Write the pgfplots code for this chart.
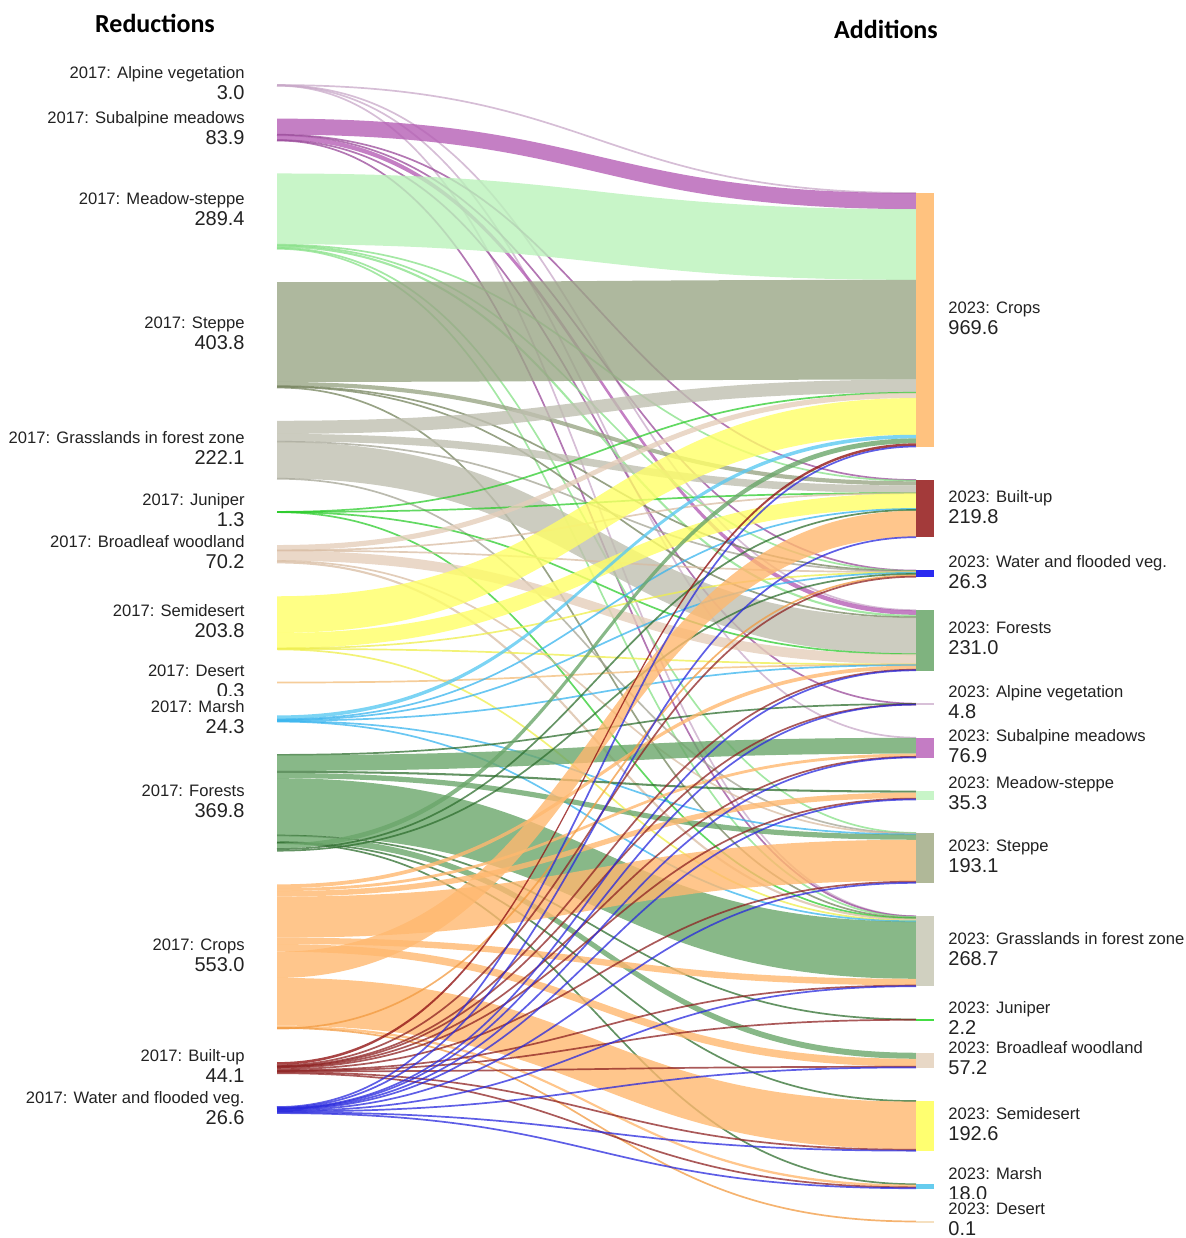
\documentclass[border=0pt]{standalone}
\usepackage{fontspec}
\setmainfont{Liberation Sans}
\newfontfamily\headfont{Carlito}
\usepackage{pgfplots}
\usepackage{pgfplotstable}
\pgfplotsset{compat=1.18}

% link colours, by source (2017)
\definecolor{L0}{HTML}{D3BAD3}
\definecolor{L1}{HTML}{B55FB5}
\definecolor{L2}{HTML}{BAF2BA}
\definecolor{L3}{HTML}{9AA686}
\definecolor{L4}{HTML}{BFBFB0}
\definecolor{L5}{HTML}{40D840}
\definecolor{L6}{HTML}{E5CEBA}
\definecolor{L7}{HTML}{FFFF67}
\definecolor{L8}{HTML}{F6CE93}
\definecolor{L9}{HTML}{5BC9F1}
\definecolor{L10}{HTML}{6AA66A}
\definecolor{L11}{HTML}{FFB86F}
\definecolor{L12}{HTML}{921515}
\definecolor{L13}{HTML}{1515EA}
% thin links
\definecolor{D0}{HTML}{C8A8C8}
\definecolor{D1}{HTML}{9A4A9A}
\definecolor{D2}{HTML}{86E086}
\definecolor{D3}{HTML}{76845E}
\definecolor{D4}{HTML}{A4A494}
\definecolor{D5}{HTML}{2ECC2E}
\definecolor{D6}{HTML}{D8BCA2}
\definecolor{D7}{HTML}{EEEE4A}
\definecolor{D8}{HTML}{F2BC78}
\definecolor{D9}{HTML}{38B4EE}
\definecolor{D10}{HTML}{2F6F2F}
\definecolor{D11}{HTML}{F29A40}
\definecolor{D12}{HTML}{8E2222}
\definecolor{D13}{HTML}{2828DD}
% node bars, by target (2023)
\definecolor{R0}{HTML}{FFC27F}
\definecolor{R1}{HTML}{A33A3A}
\definecolor{R2}{HTML}{2A2AF0}
\definecolor{R3}{HTML}{7FB37F}
\definecolor{R4}{HTML}{D8C0D8}
\definecolor{R5}{HTML}{C47CC4}
\definecolor{R6}{HTML}{C8F5C8}
\definecolor{R7}{HTML}{B0B898}
\definecolor{R8}{HTML}{D0D0C0}
\definecolor{R9}{HTML}{44DD44}
\definecolor{R10}{HTML}{E8D8C6}
\definecolor{R11}{HTML}{FFFF70}
\definecolor{R12}{HTML}{66CCEE}
\definecolor{R13}{HTML}{F5E0C0}
\definecolor{labtext}{HTML}{222222}

\newcommand\namefont{\fontsize{8.3pt}{10pt}\selectfont}
\newcommand\valfont{\fontsize{10pt}{12pt}\selectfont}
\tikzset{
  namelab/.style={font=\namefont, text=labtext, fill=white, inner xsep=0pt, inner ysep=2pt},
  vallab/.style={font=\valfont, text=labtext, inner sep=0pt}
}

% flows: src = 2017 class, tgt = 2023 class, val = area
% src: 0 Alpine 1 Subalpine 2 Meadow-steppe 3 Steppe 4 Grasslands 5 Juniper 6 Broadleaf
%      7 Semidesert 8 Desert 9 Marsh 10 Forests 11 Crops 12 Built-up 13 Water
% tgt: 0 Crops 1 Built-up 2 Water 3 Forests 4 Alpine 5 Subalpine 6 Meadow-steppe 7 Steppe
%      8 Grasslands 9 Juniper 10 Broadleaf 11 Semidesert 12 Marsh 13 Desert
\pgfplotstableread{
src tgt val
0 0 0.5
0 3 0.8
0 5 1.1
0 8 0.6
1 0 61
1 1 1
1 2 2
1 3 17.4
1 4 1.5
1 8 1
2 0 270
2 1 4.4
2 2 1
2 3 8
2 7 2
2 8 4
3 0 380.8
3 1 16
3 2 1
3 3 3
3 8 3
4 0 50
4 1 29
4 2 2
4 3 139.1
4 7 2
5 0 0.4
5 1 0.3
5 3 0.3
5 8 0.3
6 0 20
6 1 1
6 2 1
6 3 38
6 7 2.2
6 8 8
7 0 140
7 1 58
7 2 1.8
7 3 2
7 8 2
8 3 0.3
9 0 14
9 1 2.3
9 2 2
9 3 3
9 7 1
9 8 2
10 4 1.7
10 5 60.3
10 6 7.8
10 7 20
10 8 218.4
10 9 1.2
10 10 23
10 11 3.7
10 12 2.5
10 0 18.9
10 1 5.8
10 2 6.5
11 3 14.5
11 5 11
11 6 21
11 7 156.9
11 8 24.4
11 10 29.2
11 1 100
11 11 181.9
11 12 9
11 13 0.1
11 2 5
12 0 10
12 2 4
12 3 2.6
12 4 1
12 5 2.5
12 6 4
12 7 6
12 8 3
12 9 1.0
12 10 2.5
12 11 4
12 12 3.5
13 0 4
13 1 2
13 3 2
13 4 0.6
13 5 2
13 6 2.5
13 7 3
13 8 2
13 10 2.5
13 11 3
13 12 3
}\links

\begin{document}
\begin{tikzpicture}
% 1 axis unit = 1 px of the reference; sc = px per unit of area
\def\sc{0.262}\def\gap{32.85}
\def\xl{277}\def\xr{916}\def\xm{596.5}
\gdef\nodestuff{}
\gdef\linkpaths{}
% left column (2017)
\xdef\acc{85}
\foreach \val/\nm [count=\k from 0] in {3.0/Alpine vegetation, 83.9/Subalpine meadows,
    289.4/Meadow-steppe, 403.8/Steppe, 222.1/Grasslands in forest zone, 1.3/Juniper,
    70.2/Broadleaf woodland, 203.8/Semidesert, 0.3/Desert, 24.3/Marsh, 369.8/Forests,
    553.0/Crops, 44.1/Built-up, 26.6/Water and flooded veg.}{%
  \pgfmathsetmacro\cy{\acc+0.5*\val*\sc}%
  \pgfmathsetmacro\yn{\cy-6.5}\pgfmathsetmacro\yv{\cy+14.5}%
  \expandafter\xdef\csname ltop\k\endcsname{\acc}%
  \expandafter\xdef\csname loff\k\endcsname{0}%
  \xdef\nodestuff{\expandafter\unexpanded\expandafter{\nodestuff}%
    \noexpand\node[namelab,anchor=base east] at (axis cs:245,\yn) {2017: \nm};%
    \noexpand\node[vallab,anchor=base east] at (axis cs:245,\yv) {\val};}%
  \pgfmathparse{\acc+\val*\sc+\gap}\xdef\acc{\pgfmathresult}%
}
% right column (2023)
\xdef\acc{193}
\foreach \val/\nm [count=\k from 0] in {969.6/Crops, 219.8/Built-up,
    26.3/Water and flooded veg., 231.0/Forests, 4.8/Alpine vegetation,
    76.9/Subalpine meadows, 35.3/Meadow-steppe, 193.1/Steppe,
    268.7/Grasslands in forest zone, 2.2/Juniper, 57.2/Broadleaf woodland,
    192.6/Semidesert, 18.0/Marsh, 0.1/Desert}{%
  \pgfmathsetmacro\cy{\acc+0.5*\val*\sc}%
  \pgfmathsetmacro\yn{\cy-6.5}\pgfmathsetmacro\yv{\cy+14.5}%
  \pgfmathsetmacro\ybot{\acc+max(\val*\sc,1.5)}%
  \expandafter\xdef\csname rtop\k\endcsname{\acc}%
  \expandafter\xdef\csname roff\k\endcsname{0}%
  \xdef\nodestuff{\expandafter\unexpanded\expandafter{\nodestuff}%
    \noexpand\addplot[fill=R\k,draw=none,forget plot] coordinates {(916,\acc) (934,\acc) (934,\ybot) (916,\ybot)};%
    \noexpand\node[namelab,anchor=base west] at (axis cs:948,\yn) {2023: \nm};%
    \noexpand\node[vallab,anchor=base west] at (axis cs:948,\yv) {\val};}%
  \pgfmathparse{\acc+\val*\sc+\gap}\xdef\acc{\pgfmathresult}%
}
% flows
\pgfplotstablegetrowsof{\links}
\pgfmathtruncatemacro\nlast{\pgfplotsretval-1}
\foreach \r in {0,...,\nlast}{%
  \pgfplotstablegetelem{\r}{src}\of\links \edef\sr{\pgfplotsretval}%
  \pgfplotstablegetelem{\r}{tgt}\of\links \edef\tg{\pgfplotsretval}%
  \pgfplotstablegetelem{\r}{val}\of\links \edef\fv{\pgfplotsretval}%
  \pgfmathsetmacro\h{\fv*\sc}%
  \pgfmathsetmacro\ya{\csname ltop\sr\endcsname+\csname loff\sr\endcsname}%
  \pgfmathsetmacro\yb{\ya+\h}%
  \pgfmathsetmacro\yc{\csname rtop\tg\endcsname+\csname roff\tg\endcsname}%
  \pgfmathsetmacro\yd{\yc+\h}%
  \pgfmathsetmacro\tmp{\csname loff\sr\endcsname+\h}\expandafter\xdef\csname loff\sr\endcsname{\tmp}%
  \pgfmathsetmacro\tmp{\csname roff\tg\endcsname+\h}\expandafter\xdef\csname roff\tg\endcsname{\tmp}%
  \ifdim\h pt<2.2pt
    \pgfmathsetmacro\ym{\ya+0.5*\h}\pgfmathsetmacro\yn{\yc+0.5*\h}%
    \pgfmathsetmacro\lw{max(\h,1.7)*0.5}%
    \xdef\linkpaths{\expandafter\unexpanded\expandafter{\linkpaths}%
      \noexpand\draw[D\sr,line width=\lw pt,draw opacity=0.75] (axis cs:\xl,\ym) .. controls (axis cs:\xm,\ym) and (axis cs:\xm,\yn) .. (axis cs:\xr,\yn);}%
  \else
    \xdef\linkpaths{\expandafter\unexpanded\expandafter{\linkpaths}%
      \noexpand\fill[L\sr,fill opacity=0.8] (axis cs:\xl,\ya) .. controls (axis cs:\xm,\ya) and (axis cs:\xm,\yc) .. (axis cs:\xr,\yc) -- (axis cs:\xr,\yd) .. controls (axis cs:\xm,\yd) and (axis cs:\xm,\yb) .. (axis cs:\xl,\yb) -- cycle;}%
  \fi
}
\begin{axis}[
  x=0.5pt, y=0.5pt, y dir=reverse,
  xmin=0, xmax=1186, ymin=0, ymax=1238,
  hide axis, clip=false
]
\addplot[draw=none, forget plot] coordinates {(0,0) (1186,1238)};
\linkpaths
\nodestuff
\node[font=\headfont\bfseries\fontsize{13pt}{15pt}\selectfont, text=black] at (axis cs:155,23) {Reductions};
\node[font=\headfont\bfseries\fontsize{13pt}{15pt}\selectfont, text=black] at (axis cs:886,29) {Additions};
\end{axis}
\end{tikzpicture}
\end{document}
